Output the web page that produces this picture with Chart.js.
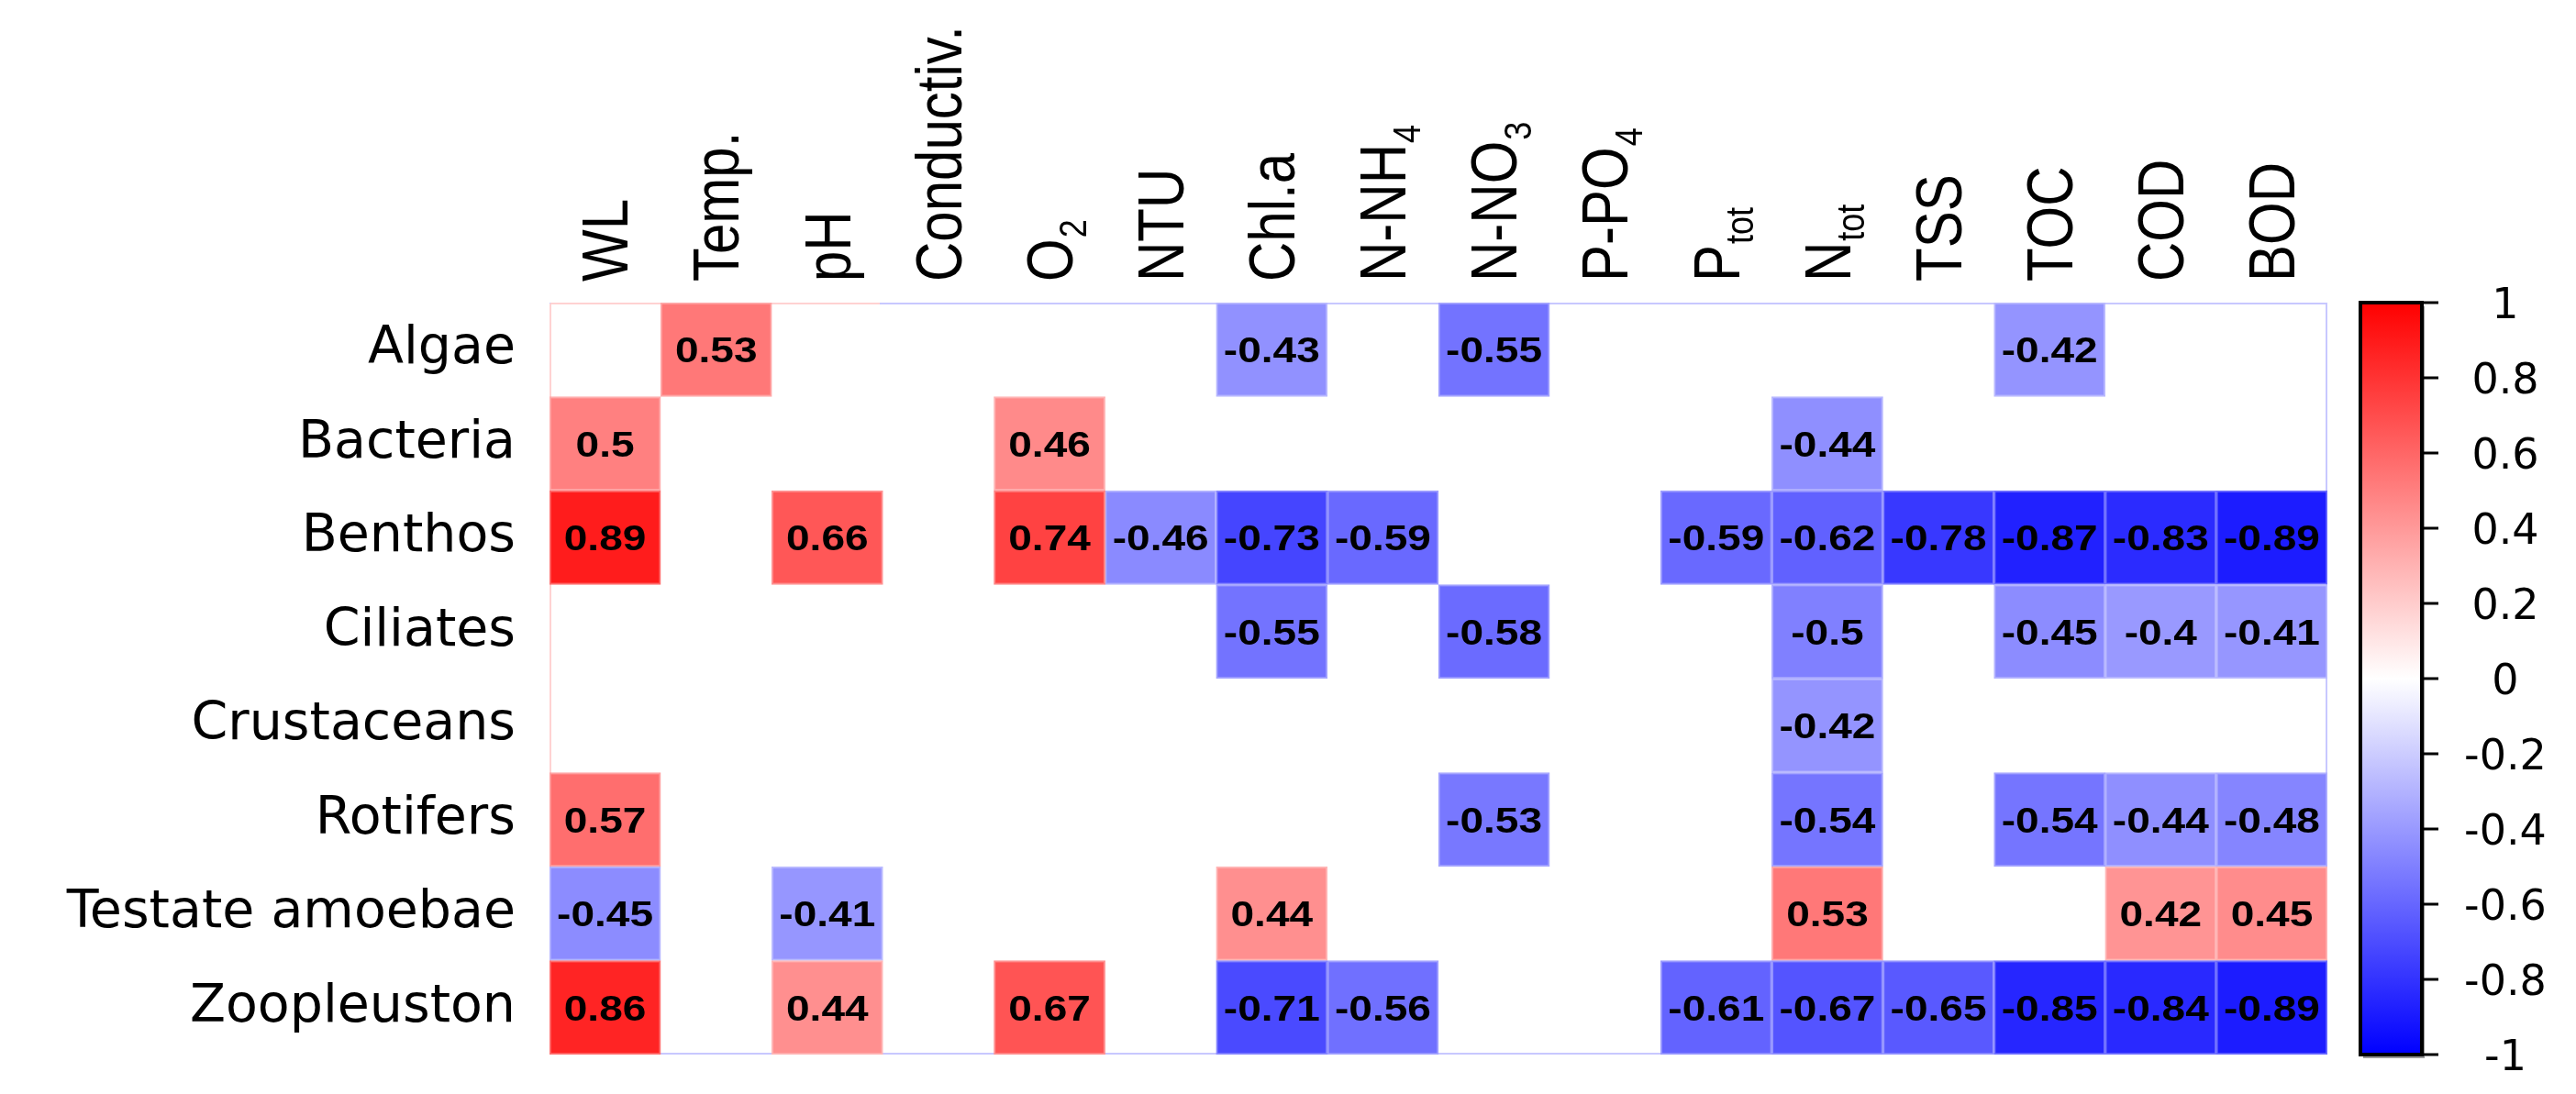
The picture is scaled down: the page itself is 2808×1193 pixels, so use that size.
<!DOCTYPE html>
<html>
<head>
<meta charset="utf-8">
<title>Correlation heatmap</title>
<script src="https://cdn.jsdelivr.net/npm/chart.js@4.4.1/dist/chart.umd.min.js"></script>
<style>
  html, body { margin: 0; padding: 0; background: #fff; }
  #wrap { width: 2808px; height: 1193px; }
</style>
</head>
<body>
<div id="wrap"><canvas id="heat"></canvas></div>
<script>
// Rows and columns. "_" marks the start of a subscript in a column label
const taxa = ['Algae', 'Bacteria', 'Benthos', 'Ciliates', 'Crustaceans', 'Rotifers', 'Testate amoebae', 'Zoopleuston'];
const params = ['WL', 'Temp.', 'pH', 'Conductiv.', 'O_2', 'NTU', 'Chl.a', 'N-NH_4', 'N-NO_3', 'P-PO_4', 'P_tot', 'N_tot', 'TSS', 'TOC', 'COD', 'BOD'];

// Only significant correlations are shown, null = blank cell
//                    WL    Temp   pH    Cond   O2    NTU   Chl.a  NH4   NO3   PO4   Ptot  Ntot   TSS   TOC   COD   BOD
const algae       = [null, 0.53, null, null, null, null, -0.43, null, -0.55, null, null, null, null, -0.42, null, null];
const bacteria    = [0.5, null, null, null, 0.46, null, null, null, null, null, null, -0.44, null, null, null, null];
const benthos     = [0.89, null, 0.66, null, 0.74, -0.46, -0.73, -0.59, null, null, -0.59, -0.62, -0.78, -0.87, -0.83, -0.89];
const ciliates    = [null, null, null, null, null, null, -0.55, null, -0.58, null, null, -0.5, null, -0.45, -0.4, -0.41];
const crustaceans = [null, null, null, null, null, null, null, null, null, null, null, -0.42, null, null, null, null];
const rotifers    = [0.57, null, null, null, null, null, null, null, -0.53, null, null, -0.54, null, -0.54, -0.44, -0.48];
const testate     = [-0.45, null, -0.41, null, null, null, 0.44, null, null, null, null, 0.53, null, null, 0.42, 0.45];
const zoopleuston = [0.86, null, 0.44, null, 0.67, null, -0.71, -0.56, null, null, -0.61, -0.67, -0.65, -0.85, -0.84, -0.89];

const matrix = [algae, bacteria, benthos, ciliates, crustaceans, rotifers, testate, zoopleuston];

// colour bar ticks
const scaleTicks = [1, 0.8, 0.6, 0.4, 0.2, 0, -0.2, -0.4, -0.6, -0.8, -1];

// blue - white - red
function cellColor(v) {
    if (v === null) return 'rgba(0,0,0,0)';
    if (v >= 0) {
        const g = Math.round(255 * (1 - v));
        return `rgb(255,${g},${g})`;
    }
    const rg = Math.round(255 * (1 + v));
    return `rgb(${rg},${rg},255)`;
}

// lighter outline of a cell
function cellEdge(v) {
    if (v === null) return 'rgba(0,0,0,0)';
    const k = 0.35;
    let r, g, b;
    if (v >= 0) { r = 255; g = b = 255 * (1 - v); }
    else { r = g = 255 * (1 + v); b = 255; }
    const mix = c => Math.round(c + (255 - c) * k);
    return `rgb(${mix(r)},${mix(g)},${mix(b)})`;
}

const STRETCH = 1.18; // the reference figure is a bit wider than tall

const datasets = params.map((p, c) => ({
    label: p,
    data: matrix.map(row => row[c] === null ? null : [c, c + 1]),
    backgroundColor: matrix.map(row => cellColor(row[c])),
    borderColor: matrix.map(row => cellEdge(row[c])),
    borderWidth: 2,
    borderSkipped: false,
    grouped: false,
    categoryPercentage: 1,
    barPercentage: 1
}));

// faint frame round the grid
const framePlugin = {
    id: 'frame',
    beforeDatasetsDraw(chart) {
        const { ctx, chartArea: a } = chart;
        ctx.save();
        ctx.lineWidth = 2;
        ctx.strokeStyle = '#c8c8ff';
        ctx.strokeRect(a.left + 1, a.top + 1, a.right - a.left - 2, a.bottom - a.top - 2);
        ctx.strokeStyle = '#ffd2d2';
        ctx.beginPath();
        ctx.moveTo(a.left + 1, a.top + 1);
        ctx.lineTo(a.left + 1, a.bottom - 1);
        ctx.moveTo(a.left + 1, a.top + 1);
        ctx.lineTo(a.left + 360, a.top + 1);
        ctx.stroke();
        ctx.restore();
    }
};

// numbers inside cells
const valuePlugin = {
    id: 'values',
    afterDatasetsDraw(chart) {
        const ctx = chart.ctx;
        ctx.save();
        ctx.font = 'bold 39px "Liberation Sans"';
        ctx.textAlign = 'center';
        ctx.textBaseline = 'alphabetic';
        ctx.fillStyle = '#000';
        chart.data.datasets.forEach((ds, c) => {
            const meta = chart.getDatasetMeta(c);
            meta.data.forEach((bar, r) => {
                const v = matrix[r][c];
                if (v === null) return;
                ctx.save();
                ctx.translate((bar.x + bar.base) / 2, bar.y + 14);
                ctx.scale(STRETCH, 1);
                ctx.fillText(String(v), 0, 0);
                ctx.restore();
            });
        });
        ctx.restore();
    }
};

// rotated column labels with subscripts
const columnLabelPlugin = {
    id: 'colLabels',
    afterDraw(chart) {
        const { ctx, chartArea } = chart;
        const x = chart.scales.x;
        params.forEach((p, c) => {
            const [main, sub] = p.split('_');
            ctx.save();
            ctx.translate(x.getPixelForValue(c + 0.5), chartArea.top - 23);
            ctx.rotate(-Math.PI / 2);
            ctx.scale(1, STRETCH);
            ctx.fillStyle = '#000';
            ctx.textAlign = 'left';
            ctx.textBaseline = 'alphabetic';
            ctx.font = '60px "Liberation Sans"';
            ctx.fillText(main, 0, 21);
            if (sub) {
                const w = ctx.measureText(main).width;
                ctx.font = '36px "Liberation Sans"';
                ctx.fillText(sub, w + 1, 34);
            }
            ctx.restore();
        });
    }
};

// colour bar next to the grid, placed on the y2 scale
const colorbarPlugin = {
    id: 'colorbar',
    afterDraw(chart) {
        const ctx = chart.ctx;
        const s = chart.scales.y2;
        const top = s.getPixelForValue(1);
        const bottom = s.getPixelForValue(-1);
        const left = 2573, right = 2640;
        ctx.save();
        // shadow
        ctx.fillStyle = '#9a9a9a';
        ctx.fillRect(left + 3, top + 4, right - left, bottom - top);
        const grad = ctx.createLinearGradient(0, top, 0, bottom);
        grad.addColorStop(0, 'rgb(255,0,0)');
        grad.addColorStop(0.5, 'rgb(255,255,255)');
        grad.addColorStop(1, 'rgb(0,0,255)');
        ctx.fillStyle = grad;
        ctx.fillRect(left, top, right - left, bottom - top);
        ctx.lineWidth = 4;
        ctx.strokeStyle = '#000';
        ctx.strokeRect(left, top, right - left, bottom - top);
        ctx.lineWidth = 3;
        ctx.fillStyle = '#000';
        ctx.font = '46px "DejaVu Sans"';
        ctx.textAlign = 'center';
        ctx.textBaseline = 'alphabetic';
        scaleTicks.forEach(v => {
            const y = s.getPixelForValue(v);
            ctx.beginPath();
            ctx.moveTo(right, y);
            ctx.lineTo(right + 18, y);
            ctx.stroke();
            ctx.fillText(String(v), 2731, y + 17);
        });
        ctx.restore();
    }
};

// keep the grid exactly where it is in the figure
function fixVertical(width) {
    return s => {
        s.width = width;
        s.paddingTop = 0;
        s.paddingBottom = 0;
    };
}

Chart.defaults.font.family = "'DejaVu Sans', sans-serif";
Chart.defaults.color = '#000';

new Chart(document.getElementById('heat'), {
    type: 'bar',
    data: { labels: taxa, datasets: datasets },
    options: {
        indexAxis: 'y',
        responsive: true,
        maintainAspectRatio: false,
        devicePixelRatio: 1,
        animation: false,
        events: [],
        layout: { padding: { left: 0, right: 0, top: 0, bottom: 43 } },
        plugins: {
            legend: { display: false },
            tooltip: { enabled: false }
        },
        scales: {
            x: {
                type: 'linear',
                position: 'top',
                min: 0,
                max: params.length,
                grid: { display: false },
                border: { display: false },
                ticks: { display: false },
                afterFit: s => { s.height = 330; s.paddingLeft = 0; s.paddingRight = 0; }
            },
            y: {
                type: 'category',
                position: 'left',
                grid: { display: false, drawTicks: false },
                border: { display: false },
                ticks: { font: { size: 57 }, padding: 37 },
                afterFit: fixVertical(599)
            },
            y2: {
                type: 'linear',
                position: 'right',
                min: -1,
                max: 1,
                offset: false,
                grid: { display: false, drawTicks: false, offset: false },
                border: { display: false },
                ticks: { display: false },
                afterBuildTicks: s => { s.ticks = scaleTicks.map(v => ({ value: v })); },
                afterFit: fixVertical(271)
            }
        }
    },
    plugins: [framePlugin, valuePlugin, columnLabelPlugin, colorbarPlugin]
});
</script>
</body>
</html>
